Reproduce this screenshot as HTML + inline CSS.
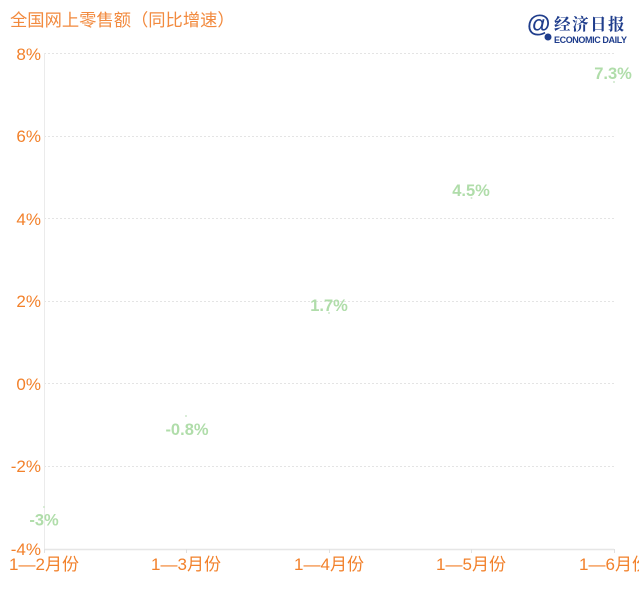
<!DOCTYPE html>
<html>
<head>
<meta charset="utf-8">
<style>
html,body{margin:0;padding:0;background:#fff;}
body{width:639px;height:600px;overflow:hidden;}
svg{display:block;}
</style>
</head>
<body>
<svg width="639" height="600" viewBox="0 0 639 600" xmlns="http://www.w3.org/2000/svg">
<rect width="639" height="600" fill="#ffffff"/>
<text x="10" y="26" font-family="'Liberation Sans','Noto Sans CJK SC',sans-serif" font-size="17.3" fill="#f28a3e">全国网上零售额（同比增速）</text>

<!-- logo -->
<g font-family="'Liberation Sans','Noto Serif CJK SC',sans-serif" fill="#1f3d8c">
<text x="527" y="32" font-size="24" font-weight="bold">@</text>
<text x="554" y="30" font-size="16.5" font-family="'Noto Serif CJK SC','Noto Sans CJK SC',serif" font-weight="bold" letter-spacing="1.5">经济日报</text>
<text x="554" y="43" font-size="9" font-weight="bold" letter-spacing="-0.4">ECONOMIC DAILY</text>
<circle cx="548" cy="37" r="3.5"/>
</g>

<!-- grid -->
<g stroke="#e4e4e4" stroke-width="1" stroke-dasharray="2,2">
<line x1="44" y1="53.5" x2="614" y2="53.5"/>
<line x1="44" y1="136.5" x2="614" y2="136.5"/>
<line x1="44" y1="218.5" x2="614" y2="218.5"/>
<line x1="44" y1="301.5" x2="614" y2="301.5"/>
<line x1="44" y1="383.5" x2="614" y2="383.5"/>
<line x1="44" y1="466.5" x2="614" y2="466.5"/>
</g>
<line x1="44.5" y1="53" x2="44.5" y2="549" stroke="#ebebeb" stroke-width="1"/>
<line x1="44" y1="549.5" x2="614" y2="549.5" stroke="#e6e6e6" stroke-width="1.5"/>
<g stroke="#e0e0e0" stroke-width="1">
<line x1="44.5" y1="549" x2="44.5" y2="553"/>
<line x1="186.5" y1="549" x2="186.5" y2="553"/>
<line x1="329.5" y1="549" x2="329.5" y2="553"/>
<line x1="471.5" y1="549" x2="471.5" y2="553"/>
<line x1="614.5" y1="549" x2="614.5" y2="553"/>
</g>

<!-- y labels -->
<g font-family="'Liberation Sans',sans-serif" font-size="17" fill="#f2812b" text-anchor="end">
<text x="41" y="60">8%</text>
<text x="41" y="142">6%</text>
<text x="41" y="225">4%</text>
<text x="41" y="307">2%</text>
<text x="41" y="390">0%</text>
<text x="41" y="472">-2%</text>
<text x="41" y="555">-4%</text>
</g>

<!-- x labels -->
<g font-family="'Liberation Sans','Noto Sans CJK SC',sans-serif" font-size="17" fill="#f2812b" text-anchor="middle">
<text x="44" y="570">1—2月份</text>
<text x="186" y="570">1—3月份</text>
<text x="329" y="570">1—4月份</text>
<text x="471" y="570">1—5月份</text>
<text x="614" y="570">1—6月份</text>
</g>

<!-- points -->
<g fill="#cfe8cc">
<circle cx="44" cy="507" r="1"/>
<circle cx="186" cy="416" r="1"/>
<circle cx="329" cy="313" r="1"/>
<circle cx="471.5" cy="198" r="1"/>
<circle cx="614" cy="82" r="1"/>
</g>

<!-- value labels -->
<g font-family="'Liberation Sans',sans-serif" font-size="16.5" font-weight="bold" fill="#b0ddaa" text-anchor="middle">
<text x="44" y="525.5">-3%</text>
<text x="187" y="435">-0.8%</text>
<text x="329" y="311">1.7%</text>
<text x="471" y="196">4.5%</text>
<text x="613" y="79">7.3%</text>
</g>
</svg>
</body>
</html>
